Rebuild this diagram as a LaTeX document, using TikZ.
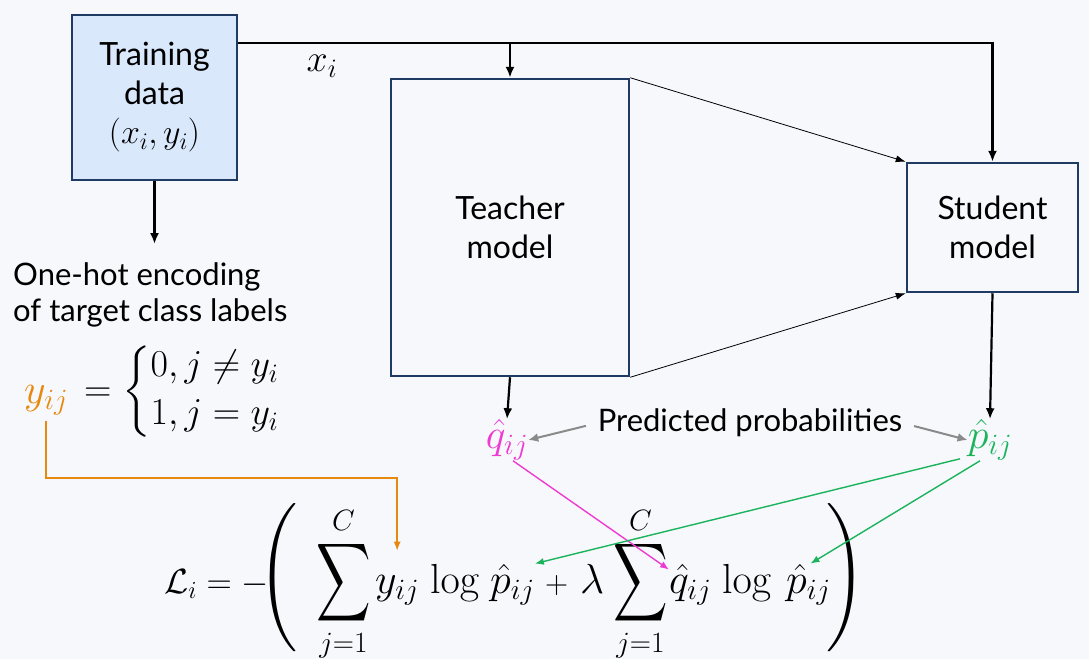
\RequirePackage{fix-cm}
\documentclass[tikz,border=0pt]{standalone}
\usepackage{amsmath,amssymb}
\usepackage[no-math]{fontspec}
\setmainfont{Lato}
\usepackage{xcolor}
\usetikzlibrary{
  arrows.meta,
  positioning
}
\definecolor{bgcol}{HTML}{F6F8FC}
\definecolor{trainfill}{HTML}{DAE8FC}
\definecolor{navy}{HTML}{1F3B64}
\definecolor{orangec}{HTML}{E8890F}
\definecolor{magc}{HTML}{EE3BD2}
\definecolor{greenc}{HTML}{1BB35C}
\definecolor{grayc}{HTML}{8A8A8A}
\newcommand{\bigsum}{\mathop{\vcenter{\hbox{\scalebox{0.9}[1.3]{$\displaystyle\sum$}}}}\limits}
\newcommand{\tallparen}[1]{\resizebox*{!}{150pt}{$#1$}}

\begin{document}
\begin{tikzpicture}[
          x=1pt,y=-1pt,
          box/.style={
              draw=navy,
              line width=2.5pt,
              align=center,
              font=\fontsize{32}{39}\selectfont
            },txt/.style={
              inner sep=0pt,
              font=\fontsize{31}{36}\selectfont
            },mathlbl/.style={
              inner sep=0pt,
              font=\fontsize{#1}{#1}\selectfont
            },mathlbl/.default=42,
          piece/.style={
              mathlbl=#1,
              anchor=base west
            },piece/.default=42,
          feed/.style={
              line width=2.2pt,
              -{Latex[length=11pt,width=9pt]}
            },distil/.style={
              line width=0.8pt,
              -{Latex[length=10pt,width=7pt]}
            },pointer/.style={
              grayc,
              line width=2pt,
              -{Latex[length=10pt,width=9pt]}
            },link/.style={
              #1,
              line width=1.4pt,
              -{Latex[length=9pt,width=7pt]}
            }
        ]
        % 背景と範囲
        \fill[bgcol] (0,0) rectangle (1089,659);
        \useasboundingbox (0,0) rectangle (1089,659);

        % ブロックの描画
        \node[box,fill=trainfill,minimum width=165,minimum height=165] (train) at (154.5,97.5)
          {Training\\data\\{\fontsize{34}{39}\selectfont$(x_i,y_i)$}};
        \node[box,minimum width=238,minimum height=297] (teacher) at (510,227.5) {Teacher\\model};
        \node[box,minimum width=171,minimum height=129] (student) at (992.5,227.5) {Student\\model};

        % 入力の経路
        \coordinate (bus) at (0,43);
        \node[mathlbl=38] (xlbl) at (322,66) {$x_i$};
        \draw[feed] (train.east |- bus) -- (student.north |- bus) -- (student.north);
        \draw[feed] (teacher.north |- bus) -- (teacher.north);
        \draw[distil] (teacher.north east) -- (student.north west);
        \draw[distil] (teacher.south east) -- (student.south west);

        % ワンホット表現
        \node[txt,align=left,anchor=north west] (onehot) at (13,262)
          {One-hot encoding\\of target class labels};
        \draw[feed] (train.south) -- ([yshift=18pt]train.south |- onehot.north);
        \node[mathlbl=42,text=orangec,anchor=base west] (yij) at (24,403) {$y_{ij}$};
        \node[mathlbl=38,anchor=base west] (cases) at (84,401)
          {$=\begin{cases}0, j \neq y_i\\[3pt] 1, j = y_i\end{cases}$};

        % 予測確率
        \node[mathlbl,text=magc] (qhat) at (507,440) {$\hat{q}_{ij}$};
        \node[mathlbl,text=greenc] (phat) at (990,440) {$\hat{p}_{ij}$};
        \node[txt] (probs) at (750,423) {Predicted probabilities};
        \draw[feed] (teacher.south) -- (qhat.north);
        \draw[feed] (student.south) -- (phat.north);
        \draw[pointer,shorten <=12pt] (probs.west) -- (qhat.east);
        \draw[pointer,shorten <=12pt] (probs.east) -- (phat.west);

        % 損失関数
        \node[piece=35] (lhs) at (164,593) {$\mathcal{L}_i = -$};
        \node[mathlbl] (lpar) at (279,577) {\tallparen{\left(\vrule height 75pt depth 45pt width 0pt\right.}};
        \node[piece] (sumA) at (316,593) {$\displaystyle\bigsum_{j=1}^{C}$};
        \node[piece] (yf) at (375,593) {$y_{ij}$};
        \node[piece] (logA) at (430,593) {$\log$};
        \node[piece] (pfA) at (490,593) {$\hat{p}_{ij}$};
        \node[piece=32] (plus) at (545,593) {$+$};
        \node[piece] (lam) at (580,593) {$\lambda$};
        \node[piece] (sumB) at (613,593) {$\displaystyle\bigsum_{j=1}^{C}$};
        \node[piece] (qf) at (669,593) {$\hat{q}_{ij}$};
        \node[piece] (logB) at (722,593) {$\log$};
        \node[piece] (pfB) at (786,593) {$\hat{p}_{ij}$};
        \node[mathlbl] (rpar) at (845,577) {\tallparen{\left.\vrule height 75pt depth 45pt width 0pt\right)}};

        % 項への対応
        \draw[link=orangec] ([yshift=-6pt]yij.south) |- (yf.north |- 0,478) -- ([yshift=24pt]yf.north);
        \draw[link=magc] ([xshift=6pt]qhat.south) -- ([yshift=-6pt]qf.north west);
        \draw[link=greenc] ([xshift=-30pt,yshift=2pt]phat.south) -- (pfA.north east);
        \draw[link=greenc] ([xshift=-10pt]phat.south) -- ([xshift=2pt]pfB.north);

      \end{tikzpicture}
\end{document}
